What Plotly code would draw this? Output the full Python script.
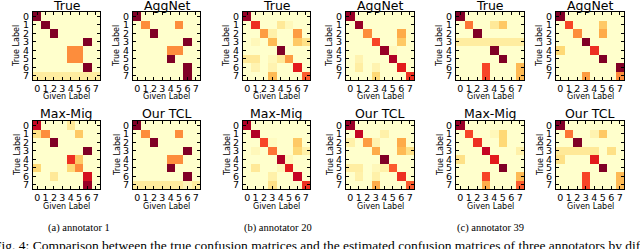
import plotly.graph_objects as go

labels = [0, 1, 2, 3, 4, 5, 6, 7]

# annotator 1
a1_true = [[1,0,0,0,0,0,0,0],[0,1,0,0,0,0,0,0],[0,0,1,0,0,0,0,0],[0,0,0,0,0,0,1,0],
           [0,0,0,0,0.5,0.5,0,0],[0,0,0,0,0.5,0.5,0,0],[0,0,0,0,0,0,1,0],
           [0.125]*8]
a1_agg = [[1,0,0,0,0,0,0,0],[0,0.5,0,0,0,0.5,0,0],[0,0,1,0,0,0,0,0],[0,0,0,0,0,0,1,0],
          [0,0,0,0,0.5,0.5,0,0],[0,0,0,0,1,0,0,0],[0,0,0,0,0,0,1,0],[0,0,0,0,0,0,1,0]]
a1_mm = [[0.85,0,0,0,0.15,0,0,0],[0.2,0.5,0,0,0,0.3,0,0],[0,0,1,0,0,0,0,0],[0,0,0,0,0,0,1,0],
         [0,0,0,0,0.7,0.3,0,0],[0.25,0,0,0,0.25,0.5,0,0],[0,0,0.15,0,0,0,0.8,0],[0,0,0,0,0,0,0.95,0]]
a1_tcl = [[1,0,0,0,0,0,0,0],[0,0.5,0,0,0,0.5,0,0],[0,0,1,0,0,0,0,0],[0,0,0,0,0,0,1,0],
          [0,0,0,0,0.5,0.5,0,0],[0,0,0,0,1,0,0,0],[0,0,0,0,0,0,1,0],
          [0.13,0.13,0.13,0.13,0.13,0.13,0.06,0.13]]

# annotator 20
a20_true = [[0.95,0,0,0,0,0,0,0],[0,0.7,0,0,0.15,0.05,0,0],[0,0,0.45,0.1,0,0,0.45,0],
            [0,0.05,0,0.35,0,0,0.3,0.2],[0,0,0,0,1,0,0,0],[0.15,0.15,0,0.05,0.15,0.45,0,0],
            [0,0.08,0,0.08,0,0,0.75,0],[0,0,0,0.35,0,0,0,0.6]]
a20_agg = [[0.95,0,0,0,0,0,0,0],[0,0.95,0,0,0,0,0,0],[0,0,0.5,0,0,0,0.4,0],
           [0,0,0,0.65,0,0,0.3,0],[0,0,0,0,0.95,0.04,0,0],[0,0.08,0,0,0,0.9,0,0],
           [0,0.12,0,0.08,0,0,0.75,0],[0,0,0,0.25,0,0,0,0.7]]
a20_mm = [[0.9,0,0,0,0,0,0,0],[0,0.9,0,0,0,0,0,0],[0,0,0.65,0.03,0,0,0.3,0],
          [0,0.05,0,0.55,0,0,0.25,0.1],[0,0,0,0,0.9,0.05,0,0],[0,0.15,0,0,0.05,0.75,0,0],
          [0,0,0,0.1,0,0,0.85,0],[0,0,0,0.2,0,0,0,0.7]]
a20_tcl = [[0.95,0,0,0,0,0,0,0],[0,0.85,0,0,0.1,0,0,0],[0.1,0,0.45,0.08,0,0,0.4,0],
           [0,0,0,0.4,0,0,0.35,0.2],[0,0,0,0,1,0,0,0],[0.12,0.12,0,0.05,0.1,0.6,0,0],
           [0,0.1,0,0.1,0,0,0.7,0],[0,0,0,0.4,0,0,0,0.6]]

# annotator 39
a39_true = [[1,0,0,0,0,0,0,0],[0,0.55,0,0,0.15,0.3,0,0],[0,0,1,0,0,0,0,0],[0.125]*8,
            [0,0,0,0,1,0,0,0],[0,0,0,0,0,1,0,0],[0,0,0,0.65,0,0,0,0.35],[0,0,0,0.65,0,0,0,0.35]]
a39_agg = [[1,0,0,0,0,0,0,0],[0,0.65,0,0,0,0.3,0,0],[0,0,0.5,0,0,0.4,0,0],[0,0,0,1,0,0,0,0],
           [0.25,0,0,0,0.7,0,0,0],[0,0,0,0,0,1,0,0],[0,0,0,0,0,0,0,1],[0,0,0,0.45,0,0,0,0.5]]
a39_mm = [[0.95,0,0,0,0,0,0,0],[0,0.65,0,0,0.05,0.25,0,0],[0,0,0.7,0,0,0.25,0,0],
          [0,0,0,0.85,0,0,0,0.1],[0.2,0,0,0,0.75,0,0,0],[0,0,0,0,0,1,0,0],
          [0,0,0,0.65,0,0,0,0.35],[0,0,0,0.4,0,0,0,0.6]]
a39_tcl = [[1,0,0,0,0,0,0,0],[0,0.55,0,0,0.08,0.3,0,0],[0,0,1,0,0,0,0,0],
           [0.15,0.15,0.15,0.15,0.15,0,0.2,0],[0.2,0,0,0,0.75,0,0,0],[0,0,0,0,0,1,0,0],
           [0,0,0,0.65,0,0,0,0.35],[0,0,0,0.65,0,0,0,0.35]]

titles_top = ["True", "AggNet", "True", "AggNet", "True", "AggNet"]
titles_bot = ["Max-Mig", "Our TCL", "Max-Mig", "Our TCL", "Max-Mig", "Our TCL"]
mats_top = [a1_true, a1_agg, a20_true, a20_agg, a39_true, a39_agg]
mats_bot = [a1_mm, a1_tcl, a20_mm, a20_tcl, a39_mm, a39_tcl]
captions = ["(a) annotator 1", "(b) annotator 20", "(c) annotator 39"]
fig_caption = "Fig. 4: Comparison between the true confusion matrices and the estimated confusion matrices of three annotators by different"

W, H = 640, 249
colorscale = [[0.0, "#ffffcc"], [0.125, "#ffeda0"], [0.25, "#fed976"], [0.375, "#feb24c"],
              [0.5, "#fd8d3c"], [0.625, "#fc4e2a"], [0.75, "#e31a1c"], [0.875, "#bd0026"],
              [1.0, "#800026"]]

col_px = [(33, 100), (133, 200), (243, 310), (346, 414), (456, 524), (556, 624)]
row_px = [(12, 80), (121, 189)]

fig = go.Figure()
layout = {}
annotations = []
font = "DejaVu Sans"
k = 0
for r, (mats, titles) in enumerate([(mats_top, titles_top), (mats_bot, titles_bot)]):
    y0p, y1p = row_px[r]
    for c in range(6):
        k += 1
        x0p, x1p = col_px[c]
        xa = "x" if k == 1 else f"x{k}"
        ya = "y" if k == 1 else f"y{k}"
        fig.add_trace(go.Heatmap(z=mats[c], x=labels, y=labels, colorscale=colorscale,
                                 zmin=0, zmax=1, showscale=False, xaxis=xa, yaxis=ya,
                                 hoverinfo="skip"))
        axcommon = dict(showline=True, linecolor="black", linewidth=1, mirror="ticks",
                        ticks="inside", ticklen=3, tickwidth=0.8, tickcolor="black",
                        tickvals=labels, ticktext=[str(v) for v in labels], tickangle=0,
                        tickfont=dict(family=font, size=9.5, color="black"),
                        showgrid=False, zeroline=False, fixedrange=True, automargin=False)
        layout["xaxis" if k == 1 else f"xaxis{k}"] = dict(
            domain=[x0p / W, x1p / W], anchor=ya, range=[-0.5, 7.5], ticklabelstandoff=0, **axcommon)
        layout["yaxis" if k == 1 else f"yaxis{k}"] = dict(
            domain=[1 - y1p / H, 1 - y0p / H], anchor=xa, range=[7.5, -0.5], ticklabelstandoff=1, **axcommon)
        cx = (x0p + x1p) / 2
        annotations.append(dict(text=titles[c], x=cx / W, y=1 - (y0p - 7) / H, xref="paper",
                                yref="paper", showarrow=False, font=dict(family=font, size=12.5, color="black"),
                                xanchor="center", yanchor="middle"))
        annotations.append(dict(text="Given Label", x=cx / W, y=1 - (y1p + 17) / H, xref="paper",
                                yref="paper", showarrow=False, font=dict(family=font, size=8, color="black"),
                                xanchor="center", yanchor="middle"))
        annotations.append(dict(text="True Label", x=(x0p - 16) / W, y=1 - (y0p + y1p) / 2 / H,
                                xref="paper", yref="paper", showarrow=False, textangle=-90,
                                font=dict(family=font, size=8, color="black"),
                                xanchor="center", yanchor="middle"))

for i, (cap, cxp) in enumerate(zip(captions, [79, 278, 490])):
    annotations.append(dict(text=cap, x=cxp / W, y=1 - 228 / H, xref="paper", yref="paper",
                            showarrow=False, font=dict(family="Liberation Serif", size=10.5, color="black"),
                            xanchor="center", yanchor="middle"))
annotations.append(dict(text=fig_caption, x=-8 / W, y=1 - 245 / H, xref="paper", yref="paper",
                        showarrow=False, font=dict(family="Liberation Serif", size=13.5, color="black"),
                        xanchor="left", yanchor="middle"))

fig.update_layout(width=W, height=H, margin=dict(l=0, r=0, t=0, b=0),
                  paper_bgcolor="white", plot_bgcolor="white", annotations=annotations, **layout)
fig.write_html("out.html", config={"displayModeBar": False},
               post_script="document.body.style.margin='0';document.body.style.padding='0';document.body.style.overflow='hidden';")
